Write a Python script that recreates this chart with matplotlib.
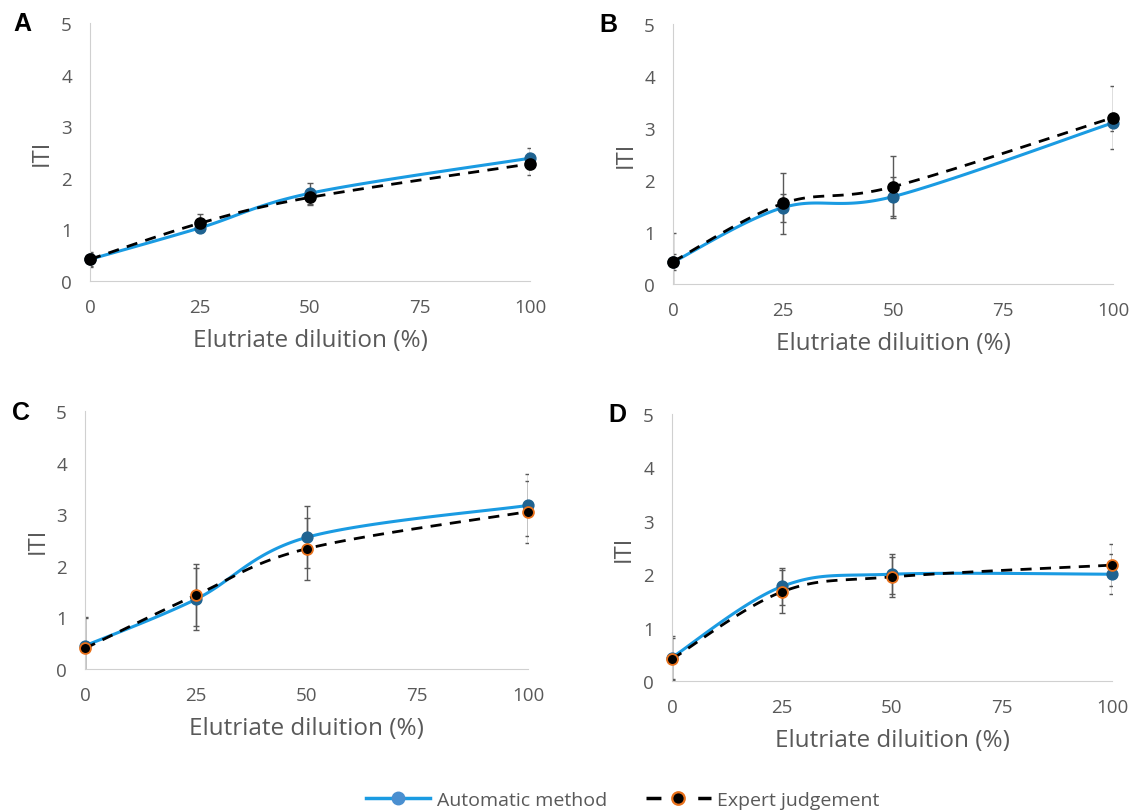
import numpy as np
import matplotlib.pyplot as plt
from matplotlib.lines import Line2D

# x positions (dilution %)
dil = [0, 25, 50, 100]

# panel values: automatic method / expert judgement, with error bars
auto_A = [0.42, 1.03, 1.70, 2.38]
auto_A_err = [0.12, 0.08, 0.20, 0.20]
exp_A = [0.42, 1.12, 1.62, 2.27]
exp_A_err = [0.15, 0.17, 0.15, 0.22]

auto_B = [0.42, 1.47, 1.68, 3.10]
auto_B_err = [0.15, 0.27, 0.38, 0.15]
exp_B = [0.43, 1.55, 1.87, 3.20]
exp_B_err = [0.55, 0.58, 0.60, 0.60]

auto_C = [0.45, 1.35, 2.55, 3.17]
auto_C_err = [0.55, 0.60, 0.60, 0.60]
exp_C = [0.40, 1.43, 2.33, 3.05]
exp_C_err = [0.58, 0.60, 0.60, 0.60]

auto_D = [0.44, 1.77, 2.00, 2.00]
auto_D_err = [0.40, 0.35, 0.37, 0.37]
exp_D = [0.41, 1.67, 1.95, 2.17]
exp_D_err = [0.40, 0.40, 0.38, 0.40]

BLUE = "#1a9be2"
BLUE_MK = "#1f6391"
GREY = "#595959"
ORANGE = "#e8701a"


def smooth(xs, ys, n=40):
    # Excel-style smoothed line (Bezier through the points)
    P = np.column_stack([xs, ys]).astype(float)
    ext = np.vstack([P[0], P, P[-1]])
    out = []
    t = np.linspace(0, 1, n)[:, None]
    for i in range(len(P) - 1):
        p0, p3 = ext[i + 1], ext[i + 2]
        c1 = p0 + (ext[i + 2] - ext[i]) / 6.0
        c2 = p3 - (ext[i + 3] - ext[i + 1]) / 6.0
        seg = ((1 - t) ** 3) * p0 + 3 * ((1 - t) ** 2) * t * c1 + 3 * (1 - t) * t ** 2 * c2 + t ** 3 * p3
        out.append(seg)
    seg = np.vstack(out)
    return seg[:, 0], seg[:, 1]


W, H = 1134, 812
fig = plt.figure(figsize=(W / 100, H / 100), dpi=100)
plt.rcParams['font.family'] = ['Open Sans', 'DejaVu Sans']

# (letter, axes rect in px: left, top, right, bottom), letter position px
panels = [
    ("A", (90, 24, 530, 282), (22, 24), auto_A, auto_A_err, exp_A, exp_A_err, "black"),
    ("B", (673, 25, 1113, 285), (608, 25), auto_B, auto_B_err, exp_B, exp_B_err, "black"),
    ("C", (85, 412, 528, 670), (21, 413), auto_C, auto_C_err, exp_C, exp_C_err, ORANGE),
    ("D", (672, 415, 1112, 682), (617, 415), auto_D, auto_D_err, exp_D, exp_D_err, ORANGE),
]

for letter, (l, t, r, b), (lx, ly), a, ae, e, ee, edge in panels:
    ax = fig.add_axes([l / W, 1 - b / H, (r - l) / W, (b - t) / H])
    ax.errorbar(dil, a, yerr=ae, fmt="none", ecolor=GREY, elinewidth=1, capsize=2.5, zorder=2)
    ax.errorbar(dil, e, yerr=ee, fmt="none", ecolor=GREY, elinewidth=1, capsize=2.5, zorder=2)
    sx, sy = smooth(dil, a)
    ax.plot(sx, sy, color=BLUE, lw=2.2, zorder=3, clip_on=False)
    ax.plot(dil, a, "o", color=BLUE_MK, ms=7.8, zorder=4, clip_on=False)
    ex, ey = smooth(dil, e)
    ax.plot(ex, ey, color="black", lw=2, dashes=(4, 3), zorder=5, clip_on=False)
    ax.plot(dil, e, "o", mfc="black", mec=edge, mew=1.3, ms=7.8, zorder=6, clip_on=False)

    ax.set_xlim(0, 100)
    ax.set_ylim(0, 5)
    ax.set_xticks([0, 25, 50, 75, 100])
    ax.set_yticks([0, 1, 2, 3, 4, 5])
    ax.tick_params(length=0, labelsize=13.5, labelcolor=GREY)
    ax.tick_params(axis="x", pad=12)
    ax.tick_params(axis="y", pad=13)
    for s in ("top", "right"):
        ax.spines[s].set_visible(False)
    for s in ("left", "bottom"):
        ax.spines[s].set_color("#d0d0d0")
    ax.set_xlabel("Elutriate diluition (%)", fontsize=17.5, color=GREY, labelpad=9)
    ax.set_ylabel("ITI", fontsize=17, color=GREY, labelpad=5)
    fig.text(lx / W, 1 - ly / H, letter, fontsize=18, fontweight="bold",
             family=["Liberation Sans"], ha="center", va="center")

handles = [
    Line2D([], [], color=BLUE, lw=2.5, marker="o", mfc="#4a8fd0", mec="#4a8fd0", ms=9),
    Line2D([], [], color="black", lw=2.5, dashes=(4.3, 10.6), marker="o", mfc="black",
           mec=ORANGE, mew=1.6, ms=9),
]
fig.legend(handles, ["Automatic method", "Expert judgement"], loc="center",
           bbox_to_anchor=(623 / W, 1 - 801 / H), ncol=2, frameon=False, fontsize=14,
           handlelength=3.3, handletextpad=0.35, columnspacing=2.0, labelcolor=GREY)

fig.savefig("out.png", dpi=100)
